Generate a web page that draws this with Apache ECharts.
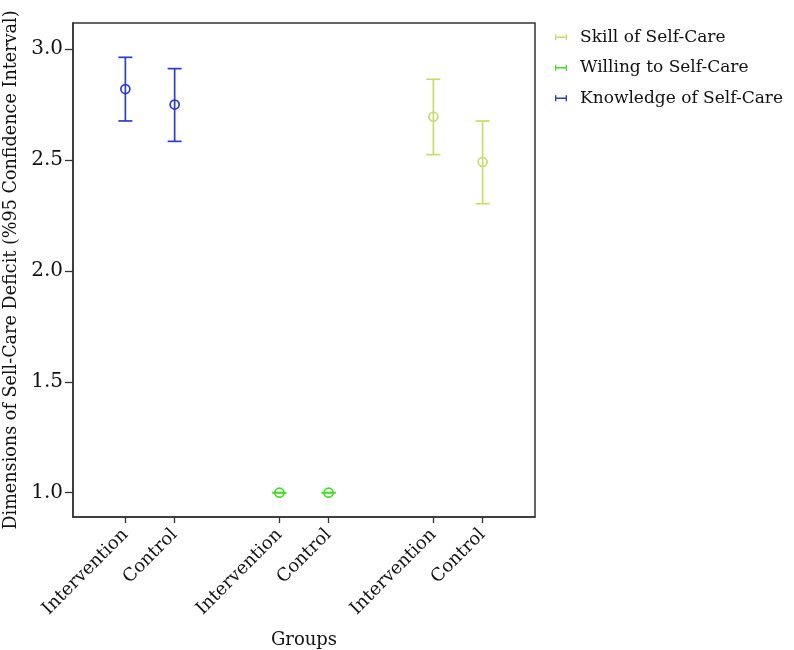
<!DOCTYPE html>
<html>
<head>
<meta charset="utf-8">
<script src="https://cdn.jsdelivr.net/npm/echarts@6/dist/echarts.min.js"></script>
<style>html,body{margin:0;padding:0;background:#fff;}#c{width:794px;height:650px;}</style>
</head>
<body>
<div id="c"></div>
<script>
// ---- data ----
var groupLabels = ['Intervention', 'Control'];
var dimensions = ['Knowledge of Self-Care', 'Willing to Self-Care', 'Skill of Self-Care'];
var legendOrder = ['Skill of Self-Care', 'Willing to Self-Care', 'Knowledge of Self-Care'];
// [Intervention, Control]
var knowledgeMean = [2.82, 2.75];
var knowledgeLow  = [2.676, 2.584];
var knowledgeHigh = [2.963, 2.912];
var willingMean = [1.0, 1.0];
var willingLow  = [1.0, 1.0];
var willingHigh = [1.0, 1.0];
var skillMean = [2.695, 2.491];
var skillLow  = [2.524, 2.303];
var skillHigh = [2.864, 2.676];
var yTicks = [1.0, 1.5, 2.0, 2.5, 3.0];

var colors = {
  'Knowledge of Self-Care': '#2b3fc6',
  'Willing to Self-Care': '#45dc2a',
  'Skill of Self-Care': '#c9dc6c'
};
var FONT = 'DejaVu Serif';
var OFFSET = 0.16;

var xPositions = [];
var xLabelMap = {};
dimensions.forEach(function (d, gi) {
  groupLabels.forEach(function (g, k) {
    var x = +(gi + 0.5 + (k === 0 ? -OFFSET : OFFSET)).toFixed(4);
    xPositions.push(x);
    xLabelMap[x] = g;
  });
});

function makeData(gi, mean, low, high) {
  return groupLabels.map(function (g, k) {
    var x = +(gi + 0.5 + (k === 0 ? -OFFSET : OFFSET)).toFixed(4);
    return [x, mean[k], low[k], high[k]];
  });
}
var seriesData = {
  'Knowledge of Self-Care': makeData(0, knowledgeMean, knowledgeLow, knowledgeHigh),
  'Willing to Self-Care': makeData(1, willingMean, willingLow, willingHigh),
  'Skill of Self-Care': makeData(2, skillMean, skillLow, skillHigh)
};

function renderItem(params, api) {
  var x = api.value(0);
  var pm = api.coord([x, api.value(1)]);
  var pl = api.coord([x, api.value(2)]);
  var ph = api.coord([x, api.value(3)]);
  var col = api.visual('color');
  var hw = 7;
  var st = { stroke: col, lineWidth: 1.7, fill: null };
  return {
    type: 'group',
    children: [
      { type: 'line', shape: { x1: pm[0], y1: pl[1], x2: pm[0], y2: ph[1] }, style: st },
      { type: 'line', shape: { x1: pm[0] - hw, y1: ph[1], x2: pm[0] + hw, y2: ph[1] }, style: st },
      { type: 'line', shape: { x1: pm[0] - hw, y1: pl[1], x2: pm[0] + hw, y2: pl[1] }, style: st },
      { type: 'circle', shape: { cx: pm[0], cy: pm[1], r: 4.5 }, style: { stroke: col, lineWidth: 1.7, fill: 'rgba(255,255,255,0)' } }
    ]
  };
}

var icon = 'path://M0,0H1.8V8H0Z M0,3.1H16V4.9H0Z M14.2,0H16V8H14.2Z';

var chart = echarts.init(document.getElementById('c'));
chart.setOption({
  animation: false,
  backgroundColor: '#fff',
  grid: { left: 73, right: 259, top: 23, bottom: 133, show: true, borderColor: '#333', borderWidth: 1.5, backgroundColor: 'transparent', containLabel: false, outerBoundsMode: 'none' },
  legend: {
    orient: 'vertical',
    left: 550,
    top: 22,
    itemWidth: 16,
    itemHeight: 6,
    itemGap: 10,
    data: legendOrder.map(function (n) { return { name: n, icon: icon, itemStyle: { color: colors[n] } }; }),
    textStyle: { fontFamily: FONT, fontSize: 17, color: '#111', lineHeight: 20.5, padding: [0, 0, 0, 6] }
  },
  xAxis: {
    type: 'value',
    min: 0,
    max: 3,
    name: 'Groups',
    nameLocation: 'middle',
    nameGap: 114,
    nameTextStyle: { fontFamily: FONT, fontSize: 18, color: '#111' },
    splitLine: { show: false },
    axisLine: { show: true, lineStyle: { color: '#333', width: 1.5 } },
    axisTick: { show: true, customValues: xPositions, length: 6, lineStyle: { color: '#333', width: 1.3 } },
    axisLabel: {
      customValues: xPositions,
      rotate: 45,
      margin: 15,
      fontFamily: FONT,
      fontSize: 18,
      color: '#111',
      formatter: function (v) { return xLabelMap[+(+v).toFixed(4)] || ''; }
    }
  },
  yAxis: {
    type: 'value',
    min: 0.8904,
    max: 3.1177,
    name: 'Dimensions of Sell-Care Deficit (%95 Confidence Interval)',
    nameLocation: 'middle',
    nameGap: 52,
    nameTextStyle: { fontFamily: FONT, fontSize: 17.6, color: '#111' },
    splitLine: { show: false },
    axisLine: { show: true, lineStyle: { color: '#333', width: 1.5 } },
    axisTick: { show: true, customValues: yTicks, length: 8, lineStyle: { color: '#333', width: 1.3 } },
    axisLabel: {
      customValues: yTicks,
      margin: 10,
      fontFamily: FONT,
      fontSize: 20,
      color: '#111',
      formatter: function (v) { return (+v).toFixed(1); }
    }
  },
  series: dimensions.map(function (d) {
    return {
      name: d,
      type: 'custom',
      renderItem: renderItem,
      itemStyle: { color: colors[d] },
      encode: { x: 0, y: [1, 2, 3] },
      data: seriesData[d]
    };
  })
});
</script>
</body>
</html>
